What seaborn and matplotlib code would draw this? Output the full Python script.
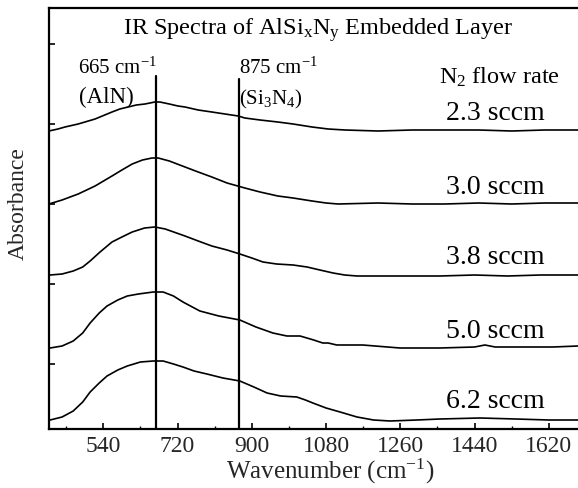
import numpy as np
import pandas as pd
import matplotlib
matplotlib.use("Agg")
import matplotlib.pyplot as plt
import seaborn as sns

# ---- data (absorbance in arbitrary offset units) ----
wn_23 = [408, 430, 447, 479, 520, 561, 580, 600, 620, 641, 665, 677, 700, 721, 738, 770, 803, 835, 867, 883, 920, 963, 1000, 1046, 1085, 1126, 1206, 1288, 1368, 1450, 1530, 1610, 1691]
ab_23 = [298, 300, 302, 305, 310, 317, 320, 322, 324, 325, 327, 327, 325, 323, 322, 319, 317, 315, 313, 311, 309, 307, 305, 302, 300, 299, 298, 299, 299, 299, 298, 299, 299]

wn_30 = [408, 440, 479, 520, 561, 585, 610, 635, 658, 673, 700, 738, 770, 803, 840, 883, 920, 963, 1000, 1046, 1080, 1109, 1206, 1288, 1368, 1450, 1530, 1610, 1691]
ab_30 = [225, 229, 235, 243, 253, 259, 265, 269, 271, 271, 268, 262, 257, 252, 246, 241, 237, 233, 231, 228, 226, 225, 226, 225, 225, 226, 225, 226, 226]

wn_38 = [411, 440, 467, 490, 508, 532, 561, 585, 610, 640, 665, 690, 738, 770, 803, 840, 871, 900, 927, 960, 1000, 1034, 1065, 1097, 1125, 1155, 1235, 1356, 1440, 1520, 1600, 1691]
ab_38 = [154, 155, 158, 162, 168, 177, 187, 192, 197, 201, 202, 200, 193, 188, 183, 179, 175, 171, 167, 165, 164, 162, 159, 156, 154, 153, 153, 153, 154, 153, 154, 154]

wn_50 = [411, 440, 467, 490, 508, 530, 549, 575, 598, 625, 661, 685, 710, 733, 774, 820, 871, 910, 951, 985, 1017, 1050, 1072, 1085, 1106, 1169, 1259, 1356, 1440, 1465, 1490, 1560, 1630, 1691]
ab_50 = [81, 83, 88, 96, 106, 116, 123, 129, 133, 135, 137, 137, 133, 127, 118, 113, 109, 102, 96, 93, 93, 89, 86, 86, 84, 84, 81, 81, 82, 84, 82, 82, 82, 83]

wn_62 = [411, 440, 467, 490, 508, 530, 549, 575, 598, 630, 661, 685, 710, 733, 760, 791, 830, 871, 905, 937, 970, 1009, 1030, 1048, 1080, 1114, 1155, 1195, 1235, 1300, 1356, 1453, 1540, 1620, 1691]
ab_62 = [9, 12, 18, 27, 37, 46, 53, 59, 63, 67, 68, 68, 65, 62, 58, 55, 51, 48, 42, 36, 33, 32, 29, 26, 21, 17, 12, 9, 8, 9, 10, 11, 10, 9, 9]

flow_labels = ["2.3 sccm", "3.0 sccm", "3.8 sccm", "5.0 sccm", "6.2 sccm"]
label_y = [317, 243, 173, 98, 28]
peak_pos = [668, 868]
peak_text = ["665 cm$^{\\mathregular{-1}}$", "875 cm$^{\\mathregular{-1}}$"]
peak_names = ["(AlN)", "(Si$_{\\mathregular{3}}$N$_{\\mathregular{4}}$)"]
x_ticks = [540, 720, 900, 1080, 1260, 1440, 1620]

# ---- build long table ----
series = [(wn_23, ab_23), (wn_30, ab_30), (wn_38, ab_38), (wn_50, ab_50), (wn_62, ab_62)]
frames = []
for lab, (w, a) in zip(flow_labels, series):
    frames.append(pd.DataFrame({"wn": w, "ab": a, "flow": lab}))
df = pd.concat(frames, ignore_index=True)

sns.set_theme(style="ticks")
plt.rcParams["font.family"] = ["Liberation Serif", "DejaVu Serif"]
plt.rcParams["mathtext.fontset"] = "custom"
plt.rcParams["mathtext.rm"] = "Liberation Serif"
plt.rcParams["mathtext.it"] = "Liberation Serif:italic"
plt.rcParams["mathtext.bf"] = "Liberation Serif:bold"

fig = plt.figure(figsize=(5.78, 4.89), dpi=100)
ax = fig.add_axes([49.3 / 578, 59 / 489, 532.5 / 578, 421 / 489])

sns.lineplot(data=df, x="wn", y="ab", hue="flow", units="flow", estimator=None,
             palette=["black"] * 5, linewidth=1.2, legend=False, ax=ax, sort=False)

ax.set_xlim(409, 1700)
ax.set_ylim(0, 421)

# peak marker lines
for p, top in zip(peak_pos, [353, 350]):
    ax.plot([p, p], [0, top], color="black", linewidth=1.6)

ax.text(peak_pos[0] + 3, 362, peak_text[0], ha="right", va="center", fontsize=15, color="black")
ax.text(peak_pos[1] + 2, 362, peak_text[1], ha="left", va="center", fontsize=15, color="black")
ax.text(480, 333, peak_names[0], ha="left", va="center", fontsize=16.5, color="black")
ax.text(peak_pos[1] + 2, 331, peak_names[1], ha="left", va="center", fontsize=15, color="black")

ax.text(1060, 400, "IR Spectra of AlSi$_{\\mathregular{x}}$N$_{\\mathregular{y}}$ Embedded Layer",
        ha="center", va="center", fontsize=17.5, color="black")
ax.text(1500, 353, "N$_{\\mathregular{2}}$ flow rate", ha="center", va="center", fontsize=17.5, color="black")
for lab, yy in zip(flow_labels, label_y):
    ax.text(1490, yy, lab, ha="center", va="center", fontsize=20, color="black")

# axes styling
ax.set_xticks(x_ticks)
ax.set_xticklabels([str(t) for t in x_ticks], fontsize=17)
ax.set_xticks([450, 630, 810, 990, 1170, 1350, 1530], minor=True)
ax.set_yticks([65, 145, 225, 305, 385])
ax.set_yticklabels([])
ax.tick_params(axis="both", which="major", direction="in", length=4, width=1.2, color="black", pad=4.5)
ax.tick_params(axis="x", which="minor", direction="in", length=2.5, width=1.0, color="black")
ax.tick_params(axis="y", which="both", left=True, right=False)
for s in ["top", "left", "bottom"]:
    ax.spines[s].set_visible(True)
    ax.spines[s].set_linewidth(1.6)
    ax.spines[s].set_color("black")
ax.spines["right"].set_visible(False)
ax.set_xlabel("")
ax.set_ylabel("")

fig.text(330 / 578, 1 - 471 / 489, "Wavenumber (cm$^{\\mathregular{-1}}$)", ha="center", va="center", fontsize=18)
fig.text(18 / 578, 1 - 204 / 489, "Absorbance", ha="center", va="center", rotation=90, fontsize=17)

fig.savefig("out.png", dpi=100, facecolor="white")
